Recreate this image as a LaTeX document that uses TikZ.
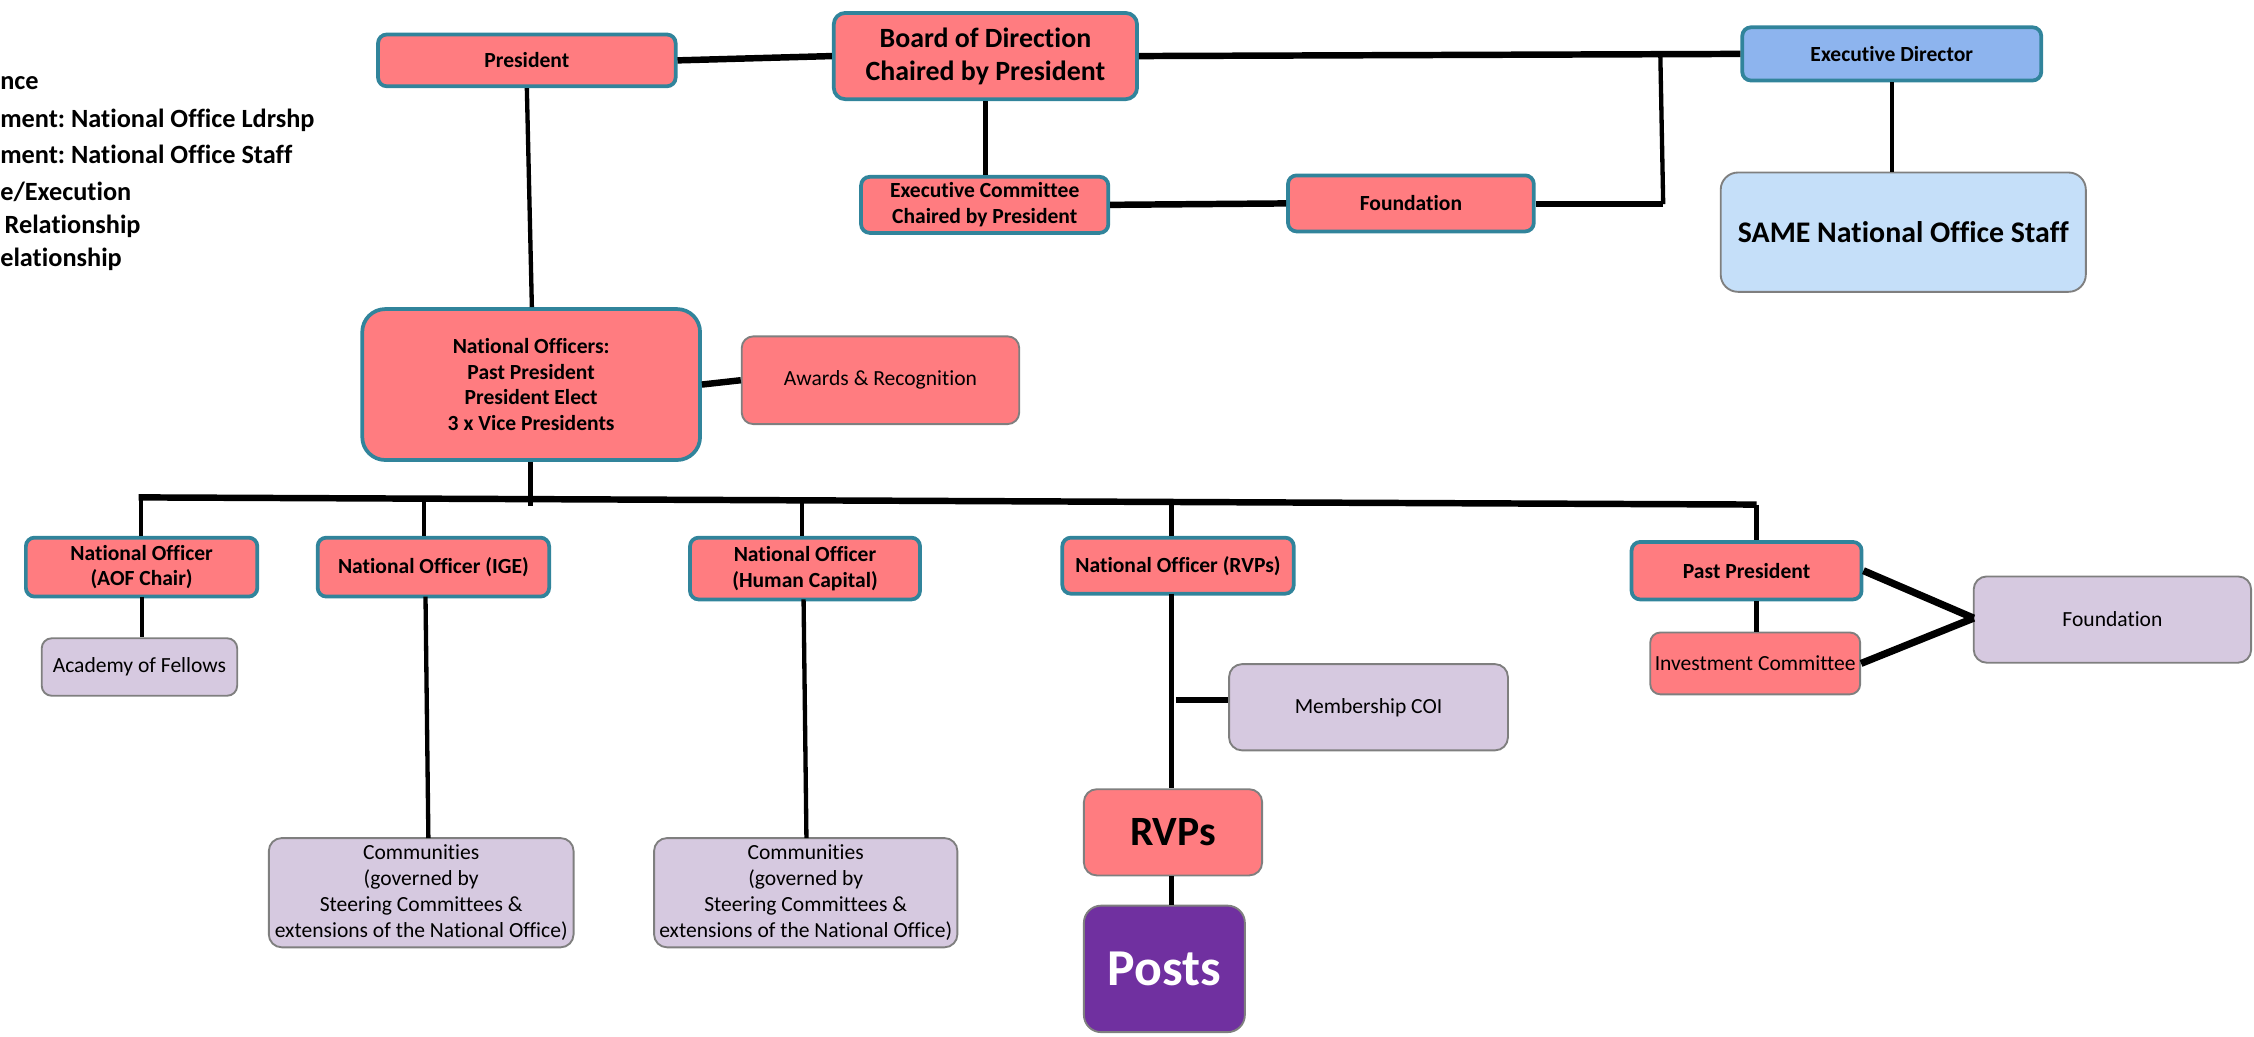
\documentclass[tikz,border=0pt]{standalone}
\usepackage{fontspec}
\setmainfont{Carlito}[Ligatures=NoCommon]
\usetikzlibrary{calc}
\frenchspacing
\definecolor{pinkf}{HTML}{FF7C80}
\definecolor{tealb}{HTML}{31849B}
\definecolor{bluef}{HTML}{8DB4EE}
\definecolor{lbluef}{HTML}{C5DFF9}
\definecolor{lilacf}{HTML}{D6C9E0}
\definecolor{grayb}{HTML}{7F7F7F}
\definecolor{purplef}{HTML}{7030A0}
\tikzset{
  base/.style={inner sep=0pt, align=center, rounded corners=6pt},
  tealbox/.style={base, fill=pinkf, draw=tealb, line width=2.6pt, font=\fontsize{15}{18}\selectfont\bfseries},
  bluebox/.style={base, fill=bluef, draw=tealb, line width=2.6pt, font=\fontsize{15}{18}\selectfont\bfseries},
  pinkbox/.style={base, fill=pinkf, draw=grayb, line width=1.3pt, font=\fontsize{15}{18}\selectfont},
  lilacbox/.style={base, fill=lilacf, draw=grayb, line width=1.3pt, rounded corners=9pt, font=\fontsize{15}{18}\selectfont},
  thick line/.style={line width=4.5pt},
  thin line/.style={line width=3pt},
  legend/.style={anchor=base west, inner sep=0pt, font=\fontsize{18.3}{22}\selectfont\bfseries\frenchspacing},
}
\begin{document}
\begin{tikzpicture}[x=1pt,y=-1pt]
\useasboundingbox (0,0) rectangle (1568,721);

% legend (cut off at left edge)
\node[legend] (l1) at (0,62) {nce};
\node[legend] (l2) at (0,88.5) {ment: National Office Ldrshp};
\node[legend] (l3) at (0,113.5) {ment: National Office Staff};
\node[legend] (l4) at (0,139.5) {e/Execution};
\node[legend] (l5) at (3,162.5) {Relationship};
\node[legend] (l6) at (0,185.5) {elationship};

% top row
\node[tealbox, minimum width=207pt, minimum height=36pt] (Pres) at (366.5,42) {President};
\node[tealbox, minimum width=211pt, minimum height=60pt, rounded corners=8pt, font=\fontsize{19.4}{23}\selectfont\bfseries] (Board) at (685.5,39) {Board of Direction\\Chaired by President};
\node[bluebox, minimum width=208pt, minimum height=37pt] (ExecDir) at (1316,37.5) {Executive Director};
\node[base, fill=lbluef, draw=grayb, line width=1.3pt, rounded corners=12pt, minimum width=254pt, minimum height=83pt, font=\fontsize{20.8}{24}\selectfont\bfseries] (Staff) at (1324,161.5) {SAME National Office Staff};
\node[tealbox, minimum width=172pt, minimum height=39pt] (ExecComm) at (685,142.5) {Executive Committee\\Chaired by President};
\node[tealbox, minimum width=171pt, minimum height=39pt] (FoundT) at (981.5,141.5) {Foundation};

% national officers
\node[tealbox, minimum width=235pt, minimum height=105pt, rounded corners=16pt] (NatOff) at (369.5,267.5) {National Officers:\\Past President\\President Elect\\3 x Vice Presidents};
\node[pinkbox, minimum width=193pt, minimum height=61pt, rounded corners=8pt] (Awards) at (612.5,264.5) {Awards \& Recognition};

% officer row
\node[tealbox, minimum width=161pt, minimum height=41pt] (AOF) at (98.5,394.5) {National Officer\\(AOF Chair)};
\node[tealbox, minimum width=161pt, minimum height=41pt] (IGE) at (301.5,394.5) {National Officer (IGE)};
\node[tealbox, minimum width=160pt, minimum height=43pt] (HC) at (560,395.5) {National Officer\\(Human Capital)};
\node[tealbox, minimum width=161pt, minimum height=39pt] (RVPo) at (819.5,393.5) {National Officer (RVPs)};
\node[tealbox, minimum width=160pt, minimum height=40pt] (PastPres) at (1215,397) {Past President};

% lower boxes
\node[lilacbox, minimum width=136pt, minimum height=40pt, rounded corners=7pt] (Academy) at (97,464) {Academy of Fellows};
\node[lilacbox, minimum width=212pt, minimum height=76pt] (Comm1) at (293,621) {Communities\\(governed by\\Steering Committees \&\\extensions of the National Office)};
\node[lilacbox, minimum width=211pt, minimum height=76pt] (Comm2) at (560.5,621) {Communities\\(governed by\\Steering Committees \&\\extensions of the National Office)};
\node[lilacbox, minimum width=194pt, minimum height=60pt] (Memb) at (952,492) {Membership COI};
\node[pinkbox, minimum width=124pt, minimum height=60pt, rounded corners=9pt, font=\fontsize{29}{32}\selectfont\bfseries] (RVPs) at (816,579) {RVPs};
\node[base, fill=purplef, draw=grayb, line width=1.3pt, rounded corners=12pt, minimum width=112pt, minimum height=88pt, text=white, font=\fontsize{36}{40}\selectfont\bfseries] (Posts) at (810,674) {Posts};
\node[pinkbox, minimum width=146pt, minimum height=43pt, rounded corners=7pt] (Invest) at (1221,461.5) {Investment Committee};
\node[lilacbox, minimum width=193pt, minimum height=60pt] (FoundR) at (1469.5,431) {Foundation};

% connectors: top
\draw[thick line] (Pres.east) -- (Board.west);
\draw[thick line] (Board.east) -- (ExecDir.west);
\coordinate (jt) at (1155,37.7);
\coordinate (jb) at (1157,142);
\draw[thin line] (jt) -- (jb);
\draw[thick line] (jb) -- (FoundT.east |- jb);
\draw[thick line] (ExecComm.east) -- (FoundT.west);
\draw[thin line] (Board.south) -- (Board.south |- ExecComm.north);
\draw[thin line] (ExecDir.south) -- (ExecDir.south |- Staff.north);
\draw[thin line] (Pres.south) -- ($(NatOff.north)+(0.5,0)$);
\draw[thick line] (NatOff.east) -- (Awards.west);

% bus
\coordinate (b1) at (98,346);
\coordinate (b2) at (295,346.9);
\coordinate (b3) at (558,348);
\coordinate (b4) at (815,349.2);
\coordinate (b5) at (1222,351);
\coordinate (nb) at (369,352);
\draw[thin line] (NatOff.south -| nb) -- (nb);
\draw[thick line] ([xshift=-1.5pt]b1) -- (b5);
\draw[thin line] (b1) -- (b1 |- AOF.north);
\draw[thin line] (b2) -- (b2 |- IGE.north);
\draw[thin line] (b3) -- (b3 |- HC.north);
\draw[thin line] (b4) -- (b4 |- RVPo.north);
\draw[thin line] (b5) -- (b5 |- PastPres.north);

% lower connectors
\coordinate (at) at (99,415);
\draw[thin line] (at) -- (at |- Academy.north);
\coordinate (c1t) at (296,415);
\coordinate (c1b) at (298,583);
\draw[thin line] (c1t) -- (c1b);
\coordinate (c2t) at (559,417);
\coordinate (c2b) at (561,583);
\draw[thin line] (c2t) -- (c2b);
\coordinate (rt) at (815,413);
\draw[thin line] (rt) -- (rt |- RVPs.north);
\coordinate (stub) at (818,487);
\draw[thick line] (stub) -- (stub -| Memb.west);
\draw[thin line] (RVPs.south -| rt) -- (rt |- Posts.north);
\draw[thin line] (Invest.north -| b5) -- (b5 |- PastPres.south);
\coordinate (fj) at (1373,430);
\draw[line width=5pt] (PastPres.east) -- (fj);
\draw[line width=5pt] (Invest.east) -- (fj);
\end{tikzpicture}
\end{document}
